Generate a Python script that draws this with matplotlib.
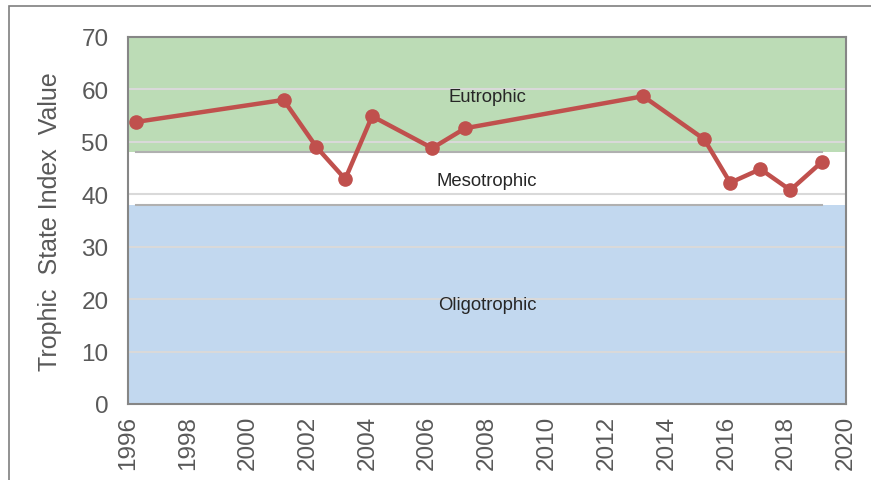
import matplotlib.pyplot as plt
from matplotlib.patches import Rectangle

plt.rcParams['font.family'] = ['Liberation Sans', 'DejaVu Sans']

# sample dates (decimal years) and trophic state index values
years = [1996.27, 2001.2, 2002.3, 2003.26, 2004.16, 2006.17, 2007.27,
         2013.22, 2015.26, 2016.13, 2017.14, 2018.14, 2019.2]
tsi = [53.8, 58.0, 49.0, 42.9, 54.9, 48.8, 52.6,
       58.7, 50.5, 42.2, 44.8, 40.8, 46.2]

# trophic class bounds
oligo_top = 38
meso_top = 48
y_max = 70
zone_labels = ["Eutrophic", "Mesotrophic", "Oligotrophic"]
zone_label_y = [58.7, 42.7, 19]

fig = plt.figure(figsize=(8.71, 4.81), dpi=100)
ax = fig.add_axes([128 / 871, 76 / 481, 718 / 871, 367 / 481])

ax.axhspan(meso_top, y_max, color="#bcdcb6", zorder=0, lw=0)
ax.axhspan(0, oligo_top, color="#c2d8ef", zorder=0, lw=0)

for y in range(10, 71, 10):
    ax.axhline(y, color="#d9d9d9", lw=1.5, zorder=1)

ax.plot([years[0], years[-1]], [meso_top, meso_top], color="#b0b0b0", lw=1.5, zorder=2)
ax.plot([years[0], years[-1]], [oligo_top, oligo_top], color="#b0b0b0", lw=1.5, zorder=2)

ax.plot(years, tsi, color="#c0504d", lw=3.2, marker="o", ms=9.5, zorder=4)

for lab, y in zip(zone_labels, zone_label_y):
    ax.text(2008.0, y, lab, ha="center", va="center", fontsize=13.3, color="#262626", zorder=3)

ax.set_xlim(1996, 2020)
ax.set_ylim(0, 70)
ax.set_xticks(range(1996, 2021, 2))
ax.set_yticks(range(0, 71, 10))
ax.tick_params(axis="x", labelrotation=90, length=0, labelsize=17.5, colors="#595959", pad=8)
ax.tick_params(axis="y", length=0, labelsize=17.5, colors="#595959", pad=14)
for s in ax.spines.values():
    s.set_color("#868686")
    s.set_linewidth(1.5)
    s.set_zorder(5)

ax.set_ylabel("Trophic  State Index  Value", fontsize=18, color="#595959", labelpad=14)

fig.patches.append(Rectangle((9 / 871, -0.1), 2, 1 - 7 / 481 + 0.1, transform=fig.transFigure,
                             fill=False, edgecolor="#7f7f7f", lw=1.2))

fig.savefig("out.png", dpi=100)
